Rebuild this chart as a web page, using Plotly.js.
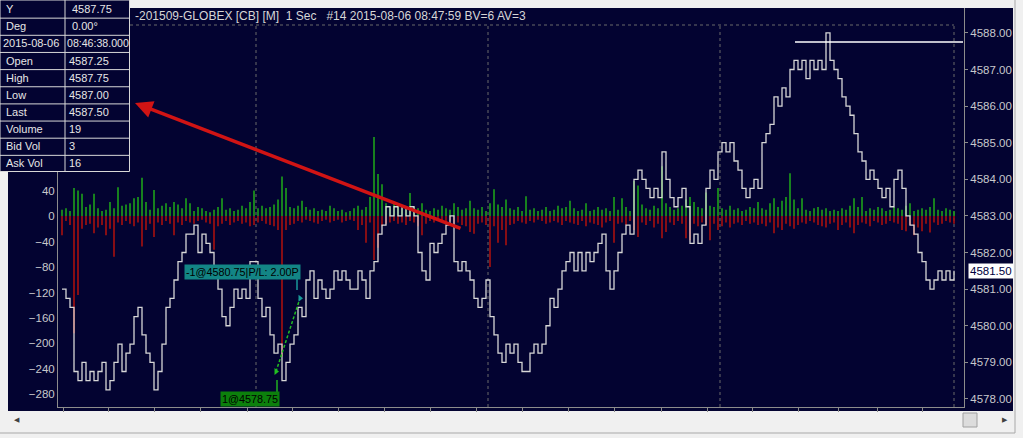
<!DOCTYPE html>
<html>
<head>
<meta charset="utf-8">
<script src="https://cdn.plot.ly/plotly-3.0.1.min.js"></script>
<style>html,body{margin:0;padding:0;background:#f0f0f0;}#chart{width:1023px;height:438px;}</style>
</head>
<body>
<div id="chart"></div>
<script>
// ---- data (1-second bars, ES 09-15 GLOBEX, 2015-08-06) ----
const closePrice = [
  4581.00,4580.75,4580.50,4578.75,4578.50,4579.00,4578.50,4578.75,
  4578.50,4578.75,4579.00,4578.25,4578.50,4579.00,4579.50,4578.75,
  4579.25,4579.50,4580.25,4580.50,4579.75,4579.25,4579.00,4578.25,
  4578.75,4579.50,4580.50,4580.75,4581.25,4581.75,4582.00,4582.50,
  4582.50,4582.75,4582.00,4582.50,4582.25,4582.00,4581.50,4581.00,
  4580.25,4580.00,4580.50,4581.00,4580.75,4581.00,4580.75,4581.75,
  4581.75,4580.75,4580.25,4580.50,4579.75,4579.25,4579.50,4578.50,
  4579.00,4579.50,4579.75,4580.50,4580.25,4581.25,4581.50,4580.75,
  4581.25,4581.00,4580.75,4581.00,4581.50,4581.25,4581.50,4581.25,
  4581.00,4581.00,4581.50,4581.25,4580.75,4581.50,4581.75,4582.50,
  4582.75,4583.25,4583.00,4583.25,4583.00,4583.25,4583.00,4583.25,
  4583.00,4582.00,4581.50,4581.25,4582.25,4582.00,4582.25,4582.50,
  4582.75,4583.00,4581.75,4581.50,4581.75,4581.50,4581.25,4580.75,
  4580.50,4580.75,4581.25,4580.25,4579.75,4579.25,4579.00,4579.50,
  4579.25,4579.50,4579.00,4578.75,4578.75,4579.25,4579.50,4579.25,
  4579.50,4580.00,4580.75,4580.50,4581.00,4581.50,4581.75,4582.00,
  4581.50,4582.00,4581.50,4582.00,4581.75,4582.00,4582.25,4582.50,
  4581.50,4581.00,4581.50,4582.00,4582.50,4582.75,4582.50,4584.00,
  4584.25,4584.00,4583.75,4583.50,4583.75,4583.50,4584.75,4584.00,
  4583.50,4583.25,4583.50,4583.75,4583.25,4582.25,4582.50,4582.25,
  4582.75,4583.75,4584.25,4584.00,4584.75,4585.00,4584.75,4585.00,
  4584.50,4584.25,4583.75,4583.50,4583.75,4584.00,4583.75,4585.00,
  4585.25,4585.50,4586.25,4586.00,4586.50,4586.25,4587.00,4587.25,
  4587.00,4587.25,4586.75,4587.25,4587.00,4587.25,4587.00,4588.00,
  4587.25,4587.00,4586.75,4586.25,4586.00,4585.75,4585.25,4584.75,
  4584.50,4584.00,4584.25,4584.00,4583.75,4583.50,4583.75,4583.25,
  4584.00,4584.25,4583.75,4583.00,4582.75,4582.50,4582.00,4581.75,
  4581.25,4581.00,4581.25,4581.50,4581.25,4581.50,4581.25,4581.50
];
const askVolume = [
  10,12,8,44,40,35,14,18,   35,12,8,10,22,12,45,16,   18,20,28,30,60,22,10,41,
  12,16,20,14,22,18,12,28,  20,8,14,12,8,6,10,14,     28,10,12,8,10,16,12,22,
  40,12,16,12,14,18,26,62,  44,14,12,16,24,14,10,12,  8,10,8,16,12,8,10,6,
  8,12,16,10,14,30,124,66,  50,20,14,22,16,12,10,36,  14,12,20,10,8,12,10,16,
  12,10,20,14,10,12,24,12,  10,14,8,20,42,18,14,26,   12,10,14,8,31,10,12,8,
  10,14,8,10,16,12,14,24,   12,8,10,20,8,10,14,10,    12,8,30,10,28,14,8,55,
  48,18,12,10,16,12,78,20,  14,10,12,16,26,30,22,14,  12,37,16,14,44,12,10,16,
  10,12,8,10,14,12,22,12,   10,20,28,14,24,30,67,26,  12,28,10,8,12,14,10,12,
  8,10,8,12,10,16,28,14,    30,8,12,10,14,12,8,10,    14,12,10,16,20,8,10,12,
  10,14,28,10,8,12,10,8
];
const bidVolume = [
  30,8,14,184,124,20,14,12, 27,18,14,30,20,64,10,14,  8,12,16,10,48,22,12,33,
  10,14,8,12,30,10,14,8,    10,12,8,6,10,12,53,16,    12,8,14,10,8,12,10,16,
  14,10,8,12,14,16,22,220,  22,14,12,8,10,6,8,10,     12,8,6,10,8,6,10,8,
  6,8,22,14,42,10,69,50,    16,12,10,8,12,10,14,8,    10,16,30,12,8,10,6,8,
  10,8,12,10,14,16,25,28,   12,10,14,80,16,42,22,46,  14,12,8,10,12,8,10,6,
  8,12,10,8,10,14,8,10,     12,14,8,16,10,12,14,18,   10,8,42,12,10,14,8,22,
  33,10,14,8,18,12,35,25,   10,14,8,12,35,38,12,16,   10,14,38,12,22,16,10,18,
  12,10,14,8,12,10,14,12,   16,10,27,18,22,12,16,20,  14,10,12,8,10,14,16,18,
  12,10,22,14,10,18,27,14,  10,12,16,8,10,14,12,8,    10,12,22,24,14,30,18,24,
  12,26,10,14,12,8,10,12
];
const tradeBar = [53.5, 59.5];
const tradePrice = [4578.75, 4580.75];
const sessionBreaks = [48.5, 106.5, 164.5, 223];
const timeTicks = [0.25,11.5,23,34.5,46.25,57.5,69,80.5,92,103.5,115,126.5,138,149.75,161.25,172.5,184,194,203.75,215];
const volTicks = [-280,-240,-200,-160,-120,-80,-40,0,40];
const priceTicks = [4578,4579,4580,4581,4582,4583,4584,4585,4586,4587,4588];
const lastPrice = 4581.50;
const highLine = 4587.75;
const headerText = "-201509-GLOBEX [CB] [M]  1 Sec   #14 2015-08-06 08:47:59 BV=6 AV=3";
const tableLabels = ["Y","Deg","2015-08-06","Open","High","Low","Last","Volume","Bid Vol","Ask Vol"];
const tableValues = ["4587.75","0.00°","08:46:38.000","4587.25","4587.75","4587.00","4587.50","19","3","16"];
const buyLabel = "1@4578.75";
const sellLabel = "-1@4580.75|P/L: 2.00P";

// ---- layout helpers ----
const W = 1023, H = 438;
const px = x => x / W;
const py = y => 1 - y / H;
const NAVY = '#030331';
const AX = '#8c8c8c';
const FONT = 'Liberation Sans, Arial, sans-serif';
const idx = closePrice.map((_, i) => i);

const traces = [
  {type:'bar', x: idx, y: askVolume, marker:{color:'#1c9a1c'}, width:0.42, yaxis:'y', hoverinfo:'skip'},
  {type:'bar', x: idx, y: bidVolume.map(v => -v), marker:{color:'#a01010'}, width:0.42, yaxis:'y', hoverinfo:'skip'},
  {type:'scatter', mode:'lines', x: idx, y: closePrice, line:{color:'#d6d6d6', width:1.3, shape:'hv'}, yaxis:'y2', hoverinfo:'skip'},
  {type:'scatter', mode:'lines+markers', x: tradeBar, y: tradePrice, yaxis:'y2',
   line:{color:'#22c022', width:1.5, dash:'3px,2px'},
   marker:{symbol:'triangle-right', size:6, color:['#22c022','#1a9a9a']}, hoverinfo:'skip'}
];

const shapes = [
  {type:'rect', xref:'paper', yref:'paper', x0:px(8), x1:px(1013), y0:py(411), y1:py(8), fillcolor:NAVY, line:{width:0}, layer:'below'},
  {type:'line', xref:'paper', yref:'paper', x0:px(1015), x1:px(1015), y0:py(0), y1:py(433), line:{color:'#a8a8a8', width:1}},
  {type:'line', xref:'paper', yref:'paper', x0:px(0), x1:px(1015), y0:py(433), y1:py(433), line:{color:'#a8a8a8', width:1}},
  {type:'rect', xref:'paper', yref:'paper', x0:px(963), x1:px(977), y0:py(427), y1:py(413), fillcolor:'#dcdcdc', line:{color:'#a0a0a0', width:1}},
  {type:'line', xref:'paper', yref:'paper', x0:px(58), x1:px(954), y0:py(25), y1:py(25), line:{color:'#6a6a6a', width:1, dash:'dot'}, layer:'below'},
  {type:'line', xref:'paper', yref:'y2', x0:px(795), x1:px(963), y0:highLine, y1:highLine, line:{color:'#ffffff', width:1.5}},
  {type:'line', xref:'paper', yref:'paper', x0:px(277), x1:px(277), y0:py(380), y1:py(392), line:{color:'#22b022', width:1.5}},
  {type:'line', xref:'paper', yref:'paper', x0:px(297), x1:px(297), y0:py(278), y1:py(290), line:{color:'#1a9a9a', width:1.5}},
  {type:'rect', xref:'paper', yref:'paper', x0:px(0), x1:px(129.5), y0:py(171.5), y1:py(0), fillcolor:NAVY, line:{color:'#d8d8d8', width:1}, layer:'above'},
  {type:'line', xref:'paper', yref:'paper', x0:px(65), x1:px(65), y0:py(171.5), y1:py(0), line:{color:'#d8d8d8', width:1}, layer:'above'}
];
sessionBreaks.forEach(b => shapes.push({type:'line', xref:'x', yref:'paper', x0:b, x1:b, y0:py(407), y1:py(25), line:{color:'#6a6a6a', width:1, dash:'dot'}, layer:'below'}));
const rowH = 17.15;
for (let r = 1; r < tableLabels.length; r++) {
  shapes.push({type:'line', xref:'paper', yref:'paper', x0:px(0), x1:px(129.5), y0:py(r*rowH + 1), y1:py(r*rowH + 1), line:{color:'#d8d8d8', width:1}, layer:'above'});
}

const annotations = [
  {xref:'paper', yref:'paper', x:px(133), y:py(16), xanchor:'left', yanchor:'middle', text:headerText, showarrow:false, font:{family:FONT, size:12, color:'#d6d6d6'}},
  {xref:'paper', yref:'paper', x:px(135), y:py(103), text:'', showarrow:true, ax:327, ay:126, arrowhead:2, arrowsize:1, arrowwidth:3.5, arrowcolor:'#d01414', standoff:0},
  {xref:'paper', yref:'paper', x:px(242), y:py(271.5), xanchor:'center', yanchor:'middle', text:sellLabel, showarrow:false, bgcolor:'#138585', borderpad:1, font:{family:FONT, size:10.8, color:'#000000'}},
  {xref:'paper', yref:'paper', x:px(250), y:py(398.5), xanchor:'center', yanchor:'middle', text:buyLabel, showarrow:false, bgcolor:'#0c800c', borderpad:1, font:{family:FONT, size:10.8, color:'#000000'}},
  {xref:'paper', yref:'y2', x:px(968), y:lastPrice, xanchor:'left', yanchor:'middle', text:lastPrice.toFixed(2), showarrow:false, bgcolor:'#ffffff', borderpad:1, font:{family:FONT, size:11.5, color:'#000040'}},
  {xref:'paper', yref:'paper', x:px(17), y:py(420), xanchor:'center', yanchor:'middle', text:'◀', showarrow:false, font:{family:'DejaVu Sans', size:7, color:'#404040'}},
  {xref:'paper', yref:'paper', x:px(1005), y:py(420), xanchor:'center', yanchor:'middle', text:'▶', showarrow:false, font:{family:'DejaVu Sans', size:7, color:'#404040'}}
];
tableLabels.forEach((t, r) => {
  const cy = r * rowH + rowH / 2 + 0.5;
  annotations.push({xref:'paper', yref:'paper', x:px(r === 2 ? 1 : 4), y:py(cy), xanchor:'left', yanchor:'middle', text:t, showarrow:false, font:{family:FONT, size:11, color:'#e6e6e6'}});
  annotations.push({xref:'paper', yref:'paper', x:px(r < 2 ? 70 : (r === 2 ? 64.5 : 67)), y:py(cy), xanchor:'left', yanchor:'middle', text:tableValues[r], showarrow:false, font:{family:FONT, size: r === 2 ? 10.6 : 11, color:'#e6e6e6'}});
});

const layout = {
  width: W, height: H,
  margin: {l:0, r:0, t:0, b:0},
  paper_bgcolor: '#f0f0f0',
  plot_bgcolor: NAVY,
  showlegend: false,
  barmode: 'overlay',
  hovermode: false,
  font: {family: FONT, size: 11, color: '#c8c8c8'},
  xaxis: {domain:[px(58), px(964)], range:[-1, 225.5], showgrid:false, zeroline:false,
          showline:true, linecolor:AX, linewidth:1, ticks:'outside', ticklen:4, tickcolor:AX,
          tickvals: timeTicks, showticklabels:false, fixedrange:true},
  yaxis: {domain:[py(407), py(8)], range:[-299.7, 326.4], showgrid:false, zeroline:false,
          showline:true, linecolor:AX, linewidth:1, ticks:'', tickvals: volTicks,
          tickfont:{family:FONT, size:11.5, color:'#c8c8cc'}, fixedrange:true},
  yaxis2: {domain:[py(407), py(8)], range:[4577.78, 4588.68], overlaying:'y', side:'right', anchor:'x',
           showgrid:false, zeroline:false, showline:true, linecolor:AX, linewidth:1,
           ticks:'outside', ticklen:3, tickcolor:AX, tickvals: priceTicks, tickformat:'.2f',
           tickfont:{family:FONT, size:11.5, color:'#c8c8cc'}, fixedrange:true},
  shapes: shapes,
  annotations: annotations
};

Plotly.newPlot('chart', traces, layout, {staticPlot:true, displayModeBar:false});
</script>
</body>
</html>
